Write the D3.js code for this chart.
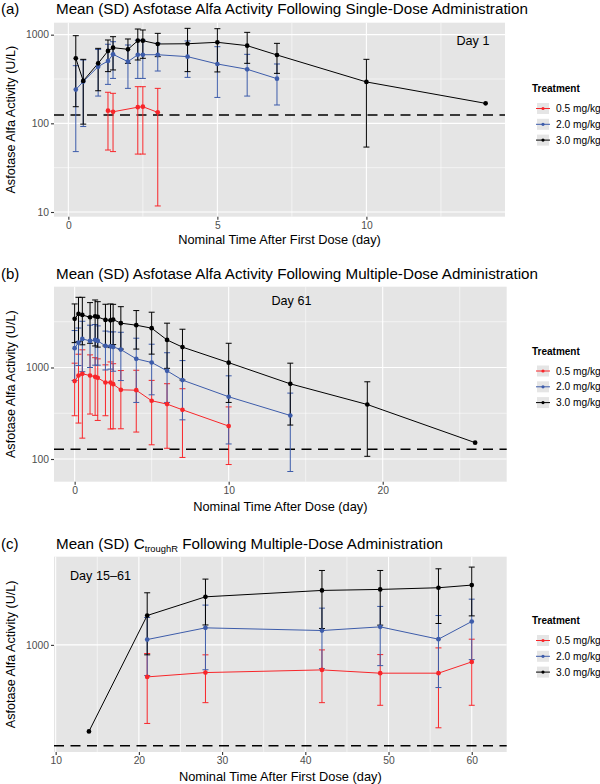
<!DOCTYPE html>
<html><head><meta charset="utf-8">
<script src="https://cdn.jsdelivr.net/npm/d3@7"></script>
<style>body{margin:0;background:#fff}svg{display:block;font-family:"Liberation Sans",Arial,Helvetica,sans-serif}</style>
</head><body><svg id="c" width="600" height="784"></svg>
<script>
// ---------- DATA ----------
const treatments = ["0.5 mg/kg", "2.0 mg/kg", "3.0 mg/kg"];

// Panel (a): single dose
const timeA_05 = [1.33, 1.5, 2.33, 2.5, 3];
const meanA_05 = [139, 135, 152, 154, 133];
const loA_05   = [50, 48, 45, 45, 11.7];
const hiA_05   = [224, 218, 259, 259, 248];

const timeA_20 = [0.25, 0.5, 1, 1.33, 1.5, 2, 2.33, 2.5, 3, 4, 5, 6, 7];
const meanA_20 = [240, 296, 436, 505, 600, 496, 594, 594, 594, 565, 467, 407, 319];
const loA_20   = [48, 92, 203, 275, 321, 248, 321, 321, 389, 330, 196, 203, 161];
const hiA_20   = [447, 518, 680, 780, 833, 765, 867, 867, 800, 850, 732, 600, 467];

const timeA_30 = [0.25, 0.5, 1, 1.33, 1.5, 2, 2.33, 2.5, 3, 4, 5, 6, 7, 10, 14];
const meanA_30 = [541, 301, 475, 655, 713, 684, 855, 855, 785, 790, 820, 752, 590, 293, 168];
const loA_30   = [154, 98, 233, 383, 400, 475, 518, 541, 565, 383, 380, 475, 366, 54, null];
const hiA_30   = [974, 527, 701, 871, 949, 894, 1158, 1129, 1035, 1179, 1168, 1062, 798, 527, null];

// Panel (b): multiple dose, Day 61
const timeB_05 = [0, 0.25, 0.5, 1, 1.33, 1.5, 2, 2.33, 2.5, 3, 4, 5, 6, 7, 10];
const meanB_05 = [710, 818, 853, 818, 791, 771, 686, 686, 658, 570, 565, 433, 398, 345, 229];
const loB_05   = [297, 247, 169, 310, 300, 264, 297, 213, 214, 214, 197, 143, 131, 104, 87];
const hiB_05   = [1115, 1397, 1560, 1374, 1280, 1243, 1069, 1150, 1100, 926, 933, 723, 665, 586, 371];

const timeB_20 = [0, 0.25, 0.5, 1, 1.33, 1.5, 2, 2.33, 2.5, 3, 4, 5, 6, 7, 10, 14];
const meanB_20 = [1626, 1874, 2054, 1954, 2004, 1954, 1722, 1708, 1680, 1571, 1243, 1134, 920, 728, 479, 299];
const loB_20   = [721, 1050, 900, 1000, 1060, 1060, 940, 960, 910, 720, 415, 503, 415, 268, 146, 73];
const hiB_20   = [2535, 2700, 3200, 2900, 2950, 2850, 2500, 2450, 2450, 2426, 2090, 1797, 1450, 1190, 811, 525];

const timeB_30 = [0, 0.25, 0.5, 1, 1.33, 1.5, 2, 2.33, 2.5, 3, 4, 5, 6, 7, 10, 14, 19, 26];
const meanB_30 = [3400, 3850, 3750, 3540, 3630, 3570, 3310, 3280, 3340, 3050, 2900, 2690, 2000, 1670, 1130, 663, 394, 151];
const loB_30   = [1870, 1920, 1770, 1840, 1720, 1670, 1720, 1650, 1780, 1590, 1590, 1400, 980, 730, 415, 235, 107, null];
const hiB_30   = [4950, 5850, 5850, 5120, 5470, 5240, 4910, 4950, 4900, 4620, 4190, 4020, 3050, 2620, 1840, 1115, 698, null];

// Panel (c): trough, Day 15-61
const timeC_05 = [21, 28, 42, 49, 56, 60];
const meanC_05 = [518, 566, 598, 559, 559, 705];
const loC_05   = [199, 305, 305, 289, 182, 289];
const hiC_05   = [837, 815, 902, 819, 940, 1124];

const timeC_20 = [21, 28, 42, 49, 56, 60];
const meanC_20 = [1116, 1419, 1343, 1448, 1124, 1617];
const loC_20   = [532, 600, 614, 653, 416, 739];
const hiC_20   = [1755, 2265, 2128, 2204, 1828, 2559];

const timeC_30 = [14, 21, 28, 42, 49, 56, 60];
const meanC_30 = [169, 1829, 2685, 3062, 3126, 3236, 3416];
const loC_30   = [null, 815, 1506, 1400, 1500, 1552, 1815];
const hiC_30   = [null, 2917, 3864, 4613, 4613, 4775, 4946];

const lloqA = 124, lloqB = 128, lloqC = 126;

const xTicksA = [0, 5, 10], xTicksB = [0, 10, 20], xTicksC = [10, 20, 30, 40, 50, 60];
const yTicksA = [10, 100, 1000], yTicksB = [100, 1000], yTicksC = [1000];

// ---------- STYLE ----------
const colors = ["#F8262A", "#3D5CAA", "#000000"];
const panelBg = "#E5E5E5";

const svg = d3.select("#c");
svg.append("rect").attr("width", 600).attr("height", 784).attr("fill", "#fff");

function zip(t, m, lo, hi) { return t.map((d, i) => ({t: d, m: m[i], lo: lo[i], hi: hi[i]})); }

function panel(o) {
  const g = svg.append("g");
  const x = d3.scaleLinear().domain(o.xDom).range([o.left, o.right]);
  const y = d3.scaleLog().domain(o.yDom).range([o.bottom, o.top]);
  g.append("rect").attr("x", o.left).attr("y", o.top).attr("width", o.right - o.left)
    .attr("height", o.bottom - o.top).attr("fill", panelBg);
  // grid
  o.xMinor.forEach(v => g.append("line").attr("x1", x(v)).attr("x2", x(v)).attr("y1", o.top).attr("y2", o.bottom)
    .attr("stroke", "#fff").attr("stroke-width", 0.55));
  o.yMinor.forEach(v => g.append("line").attr("y1", y(v)).attr("y2", y(v)).attr("x1", o.left).attr("x2", o.right)
    .attr("stroke", "#fff").attr("stroke-width", 0.55));
  o.xTicks.forEach(v => g.append("line").attr("x1", x(v)).attr("x2", x(v)).attr("y1", o.top).attr("y2", o.bottom)
    .attr("stroke", "#fff").attr("stroke-width", 1.1));
  o.yTicks.forEach(v => g.append("line").attr("y1", y(v)).attr("y2", y(v)).attr("x1", o.left).attr("x2", o.right)
    .attr("stroke", "#fff").attr("stroke-width", 1.1));
  // axes
  const ax = g.append("g").attr("transform", `translate(0,${o.bottom})`)
    .call(d3.axisBottom(x).tickValues(o.xTicks).tickSize(3).tickPadding(2).tickFormat(d3.format("d")));
  const ay = g.append("g").attr("transform", `translate(${o.left},0)`)
    .call(d3.axisLeft(y).tickValues(o.yTicks).tickSize(3).tickPadding(2).tickFormat(d3.format("d")));
  [ax, ay].forEach(a => {
    a.select(".domain").remove();
    a.selectAll(".tick line").attr("stroke", "#333").attr("stroke-width", 1.1);
    a.selectAll(".tick text").attr("fill", "#4D4D4D").style("font-size", "10.3px")
      .style("font-family", '"Liberation Sans",Arial,sans-serif');
  });
  // lloq dashed line
  g.append("line").attr("x1", o.left).attr("x2", o.right).attr("y1", y(o.lloq)).attr("y2", y(o.lloq))
    .attr("stroke", "#000").attr("stroke-width", 1.6).attr("stroke-dasharray", "10,6.5");
  // series
  const series = o.series.map((s, i) => ({data: s, color: colors[i]}));
  series.forEach(s => {
    s.data.filter(d => d.lo != null).forEach(d => {
      const eg = g.append("g").attr("stroke", s.color).attr("stroke-width", 1.0).attr("fill", "none");
      eg.append("line").attr("x1", x(d.t)).attr("x2", x(d.t)).attr("y1", y(d.lo)).attr("y2", y(d.hi));
      eg.append("line").attr("x1", x(d.t) - 3).attr("x2", x(d.t) + 3).attr("y1", y(d.lo)).attr("y2", y(d.lo));
      eg.append("line").attr("x1", x(d.t) - 3).attr("x2", x(d.t) + 3).attr("y1", y(d.hi)).attr("y2", y(d.hi));
    });
  });
  series.forEach(s => {
    g.append("path").datum(s.data).attr("fill", "none").attr("stroke", s.color).attr("stroke-width", 1.0)
      .attr("d", d3.line().x(d => x(d.t)).y(d => y(d.m)));
  });
  series.forEach(s => {
    g.selectAll(null).data(s.data).enter().append("circle")
      .attr("cx", d => x(d.t)).attr("cy", d => y(d.m)).attr("r", 2.35).attr("fill", s.color);
  });
  // titles
  const t = g.append("text").attr("x", 56).attr("y", o.titleY).style("font-size", "15.2px").attr("fill", "#000");
  o.title(t);
  g.append("text").attr("x", 1).attr("y", o.titleY).style("font-size", "15px").text(o.label);
  g.append("text").attr("x", (o.left + o.right) / 2).attr("y", o.xTitleY).attr("text-anchor", "middle")
    .style("font-size", "12.8px").text(o.xTitle);
  g.append("text").attr("transform", `translate(14.5,${(o.top + o.bottom) / 2}) rotate(-90)`)
    .attr("text-anchor", "middle").style("font-size", "12.6px").text("Asfotase Alfa Activity (U/L)");
  g.append("text").attr("x", o.annX).attr("y", o.annY).style("font-size", "12.6px").text(o.ann);
  // legend
  const lg = g.append("g");
  lg.append("text").attr("x", 532).attr("y", o.legY).style("font-size", "10px").style("font-weight", "bold").text("Treatment");
  treatments.forEach((name, i) => {
    const cy = o.legY + 16.5 + i * 15.8;
    lg.append("rect").attr("x", 537).attr("y", cy - 5.5).attr("width", 12).attr("height", 11).attr("fill", panelBg);
    lg.append("line").attr("x1", 536).attr("x2", 550).attr("y1", cy).attr("y2", cy).attr("stroke", colors[i]).attr("stroke-width", 1.0);
    lg.append("circle").attr("cx", 543).attr("cy", cy).attr("r", 1.6).attr("fill", colors[i]);
    lg.append("text").attr("x", 556).attr("y", cy).attr("dy", "0.35em").style("font-size", "10.2px").text(name);
  });
}

panel({
  left: 54, right: 505, top: 22.7, bottom: 216.7,
  xDom: [-0.481, 14.65], yDom: [Math.pow(10, 0.947), Math.pow(10, 3.135)],
  xTicks: xTicksA, xMinor: [2.5, 7.5, 12.5], yTicks: yTicksA, yMinor: [Math.pow(10, 1.5), Math.pow(10, 2.5)],
  lloq: lloqA,
  series: [zip(timeA_05, meanA_05, loA_05, hiA_05), zip(timeA_20, meanA_20, loA_20, hiA_20), zip(timeA_30, meanA_30, loA_30, hiA_30)],
  title: t => t.text("Mean (SD) Asfotase Alfa Activity Following Single-Dose Administration"),
  label: "(a)", titleY: 14, xTitle: "Nominal Time After First Dose (day)", xTitleY: 244,
  ann: "Day 1", annX: 456.5, annY: 44.5, legY: 92
});

panel({
  left: 54, right: 506.7, top: 286.7, bottom: 481.7,
  xDom: [-1.34, 28.05], yDom: [Math.pow(10, 1.752), Math.pow(10, 3.883)],
  xTicks: xTicksB, xMinor: [5, 15, 25], yTicks: yTicksB, yMinor: [Math.pow(10, 2.5), Math.pow(10, 3.5)],
  lloq: lloqB,
  series: [zip(timeB_05, meanB_05, loB_05, hiB_05), zip(timeB_20, meanB_20, loB_20, hiB_20), zip(timeB_30, meanB_30, loB_30, hiB_30)],
  title: t => t.text("Mean (SD) Asfotase Alfa Activity Following Multiple-Dose Administration"),
  label: "(b)", titleY: 278.5, xTitle: "Nominal Time After Dose (day)", xTitleY: 511,
  ann: "Day 61", annX: 271.5, annY: 304.5, legY: 354.5
});

panel({
  left: 54, right: 506.7, top: 556.7, bottom: 752,
  xDom: [9.8, 64.2], yDom: [Math.pow(10, 2.044), Math.pow(10, 3.787)],
  xTicks: xTicksC, xMinor: [15, 25, 35, 45, 55], yTicks: yTicksC, yMinor: [],
  lloq: lloqC,
  series: [zip(timeC_05, meanC_05, loC_05, hiC_05), zip(timeC_20, meanC_20, loC_20, hiC_20), zip(timeC_30, meanC_30, loC_30, hiC_30)],
  title: t => { t.append("tspan").text("Mean (SD) C");
    t.append("tspan").attr("dy", 3).style("font-size", "9.4px").text("troughR");
    t.append("tspan").attr("dy", -3).text(" Following Multiple-Dose Administration"); },
  label: "(c)", titleY: 549, xTitle: "Nominal Time After First Dose (day)", xTitleY: 781,
  ann: "Day 15–61", annX: 70, annY: 579.5, legY: 624
});
</script></body></html>
